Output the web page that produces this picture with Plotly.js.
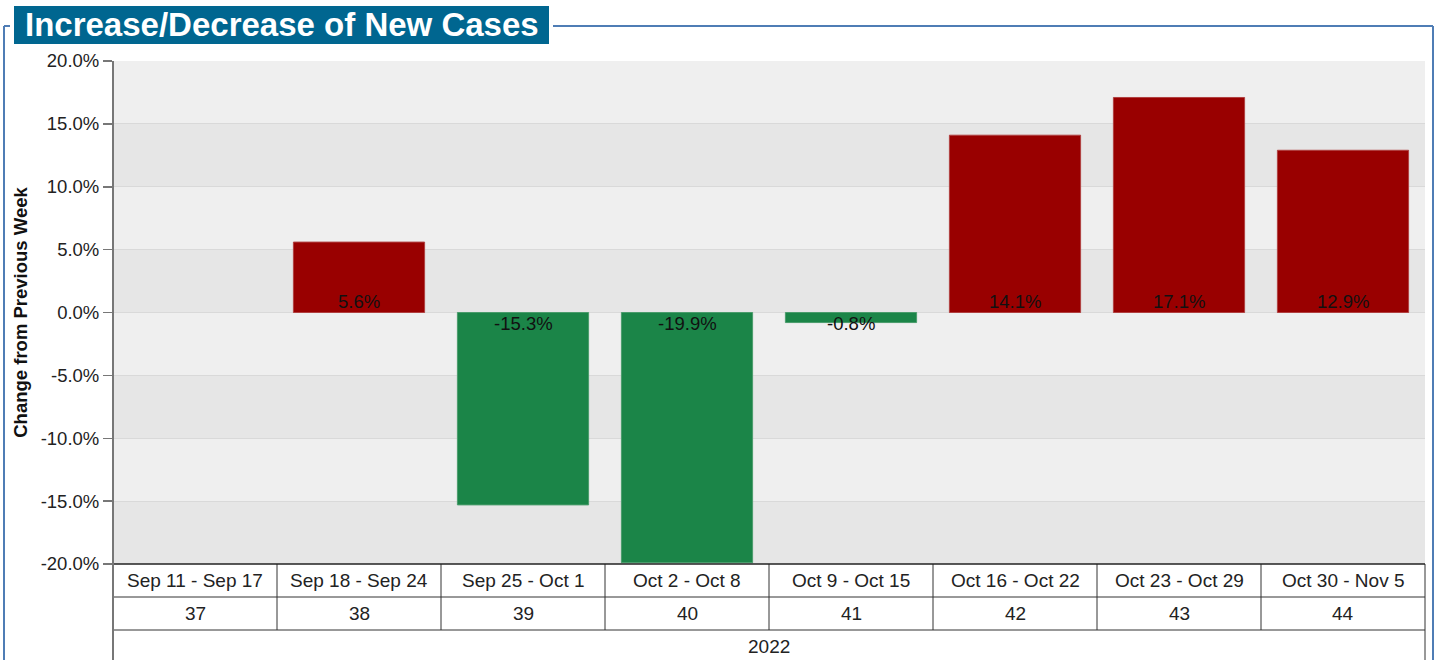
<!DOCTYPE html>
<html><head><meta charset="utf-8">
<script src="https://cdn.plot.ly/plotly-3.0.1.min.js"></script>
<style>html,body{margin:0;padding:0;background:#fff;}#chart{width:1437px;height:660px;}</style>
</head><body><div id="chart"></div>
<script>
const weekRanges = ["Sep 11 - Sep 17","Sep 18 - Sep 24","Sep 25 - Oct 1","Oct 2 - Oct 8","Oct 9 - Oct 15","Oct 16 - Oct 22","Oct 23 - Oct 29","Oct 30 - Nov 5"];
const weekNumbers = ["37","38","39","40","41","42","43","44"];
const yearLabel = "2022";
const changePct = [null, 5.6, -15.3, -19.9, -0.8, 14.1, 17.1, 12.9];
const yTicks = [-20,-15,-10,-5,0,5,10,15,20];

const W = 1437, H = 660, L = 113, R = 1425, T = 61, B = 564;
const px2x = p => (p - L) / (R - L);
const px2y = p => (B - p) / (B - T);
const FONT = "Liberation Sans, Arial, sans-serif";

const RED = "#990000", GREEN = "#1b8548";
const colors = changePct.map(v => v == null ? RED : (v >= 0 ? RED : GREEN));
const lineColors = changePct.map(v => v == null ? RED : (v >= 0 ? "#b04040" : "#4a9c6c"));

const shapes = [];
for (let i = 0; i < yTicks.length - 1; i++) {
  shapes.push({type:"rect", xref:"paper", yref:"y", x0:0, x1:1, y0:yTicks[i], y1:yTicks[i+1],
    fillcolor: (i % 2 === 0) ? "#e6e6e6" : "#efefef", line:{width:0}, layer:"below"});
}
const tableLine = {color:"#333", width:1};
[597, 630].forEach(py => shapes.push({type:"line", xref:"paper", yref:"paper", x0:0, x1:1, y0:px2y(py), y1:px2y(py), line:tableLine}));
for (let i = 1; i <= weekRanges.length; i++) {
  const xp = i / weekRanges.length;
  const bottom = (i === weekRanges.length) ? px2y(H + 5) : px2y(630);
  shapes.push({type:"line", xref:"paper", yref:"paper", x0:xp, x1:xp, y0:0, y1:bottom, line:tableLine});
}
shapes.push({type:"line", xref:"paper", yref:"paper", x0:0, x1:1, y0:0, y1:0, line:{color:"#222", width:1.5}});
shapes.push({type:"line", xref:"paper", yref:"paper", x0:0, x1:0, y0:px2y(H + 5), y1:1, line:{color:"#777", width:2}});
const FRAME = "#4f7db5";
shapes.push({type:"line", xref:"paper", yref:"paper", x0:px2x(4), x1:px2x(10), y0:px2y(26), y1:px2y(26), line:{color:FRAME, width:2}});
shapes.push({type:"line", xref:"paper", yref:"paper", x0:px2x(553), x1:px2x(1433), y0:px2y(26), y1:px2y(26), line:{color:FRAME, width:2}});
shapes.push({type:"line", xref:"paper", yref:"paper", x0:px2x(4), x1:px2x(4), y0:px2y(26), y1:px2y(H + 5), line:{color:FRAME, width:2}});
shapes.push({type:"line", xref:"paper", yref:"paper", x0:px2x(1433), x1:px2x(1433), y0:px2y(26), y1:px2y(H + 5), line:{color:FRAME, width:2}});
shapes.push({type:"rect", xref:"paper", yref:"paper", x0:px2x(14), x1:px2x(549), y0:px2y(6), y1:px2y(44), fillcolor:"#006690", line:{width:0}});

const annotations = [];
const tf = {family:FONT, size:19, color:"#222"};
weekRanges.forEach((w, i) => {
  annotations.push({xref:"x", yref:"paper", x:w, y:px2y(580.5), text:w, showarrow:false, font:tf, yanchor:"middle"});
  annotations.push({xref:"x", yref:"paper", x:w, y:px2y(613.5), text:weekNumbers[i], showarrow:false, font:tf, yanchor:"middle"});
  const v = changePct[i];
  if (v != null) {
    annotations.push({xref:"x", yref:"y", x:w, y:0, text:v.toFixed(1) + "%", showarrow:false,
      font:{family:FONT, size:18.5, color:"#111"},
      yanchor: v >= 0 ? "bottom" : "top", yshift: v >= 0 ? -1.5 : 2});
  }
});
annotations.push({xref:"paper", yref:"paper", x:0.5, y:px2y(646.5), text:yearLabel, showarrow:false, font:tf, yanchor:"middle"});
annotations.push({xref:"paper", yref:"paper", x:px2x(281.5), y:px2y(25), text:"<b>Increase/Decrease of New Cases</b>", showarrow:false,
  font:{family:FONT, size:33, color:"#fff"}, xanchor:"center", yanchor:"middle"});

const data = [{
  type:"bar", x:weekRanges, y:changePct,
  marker:{color:colors, line:{color:lineColors, width:1}},
  hoverinfo:"x+y", width:0.8
}];

const layout = {
  width:W, height:H, margin:{l:L, r:W-R, t:T, b:H-B},
  paper_bgcolor:"#fff", plot_bgcolor:"#efefef",
  showlegend:false,
  font:{family:FONT, size:18.5, color:"#222"},
  xaxis:{type:"category", showticklabels:false, ticks:"", showgrid:false, zeroline:false, showline:false, fixedrange:true},
  yaxis:{range:[-20,20], tickvals:yTicks, ticktext:yTicks.map(t => t.toFixed(1) + "%"),
    ticks:"outside", ticklen:9, tickcolor:"#777", tickwidth:1.5,
    showgrid:true, gridcolor:"#d9d9d9", gridwidth:1, zeroline:false,
    showline:false, tickfont:{family:FONT, size:18.5, color:"#222"},
    title:{text:"<b>Change from Previous Week</b>", font:{family:FONT, size:18.5, color:"#111"}, standoff:8}},
  shapes:shapes, annotations:annotations
};
Plotly.newPlot("chart", data, layout, {displayModeBar:false, staticPlot:true});
</script></body></html>
